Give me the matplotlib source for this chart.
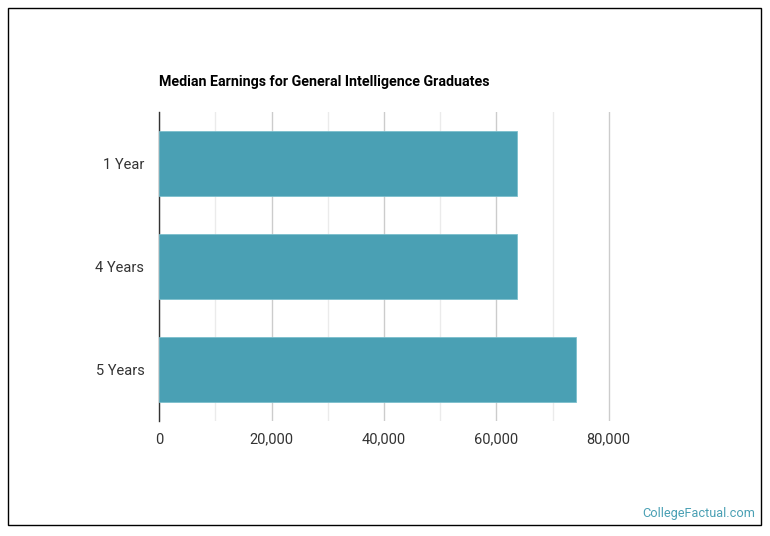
import matplotlib.pyplot as plt
from matplotlib.patches import Rectangle

plt.rcParams['font.family'] = ['Roboto', 'DejaVu Sans']

categories = ['1 Year', '4 Years', '5 Years']
earnings = [63700, 63700, 74200]
xticks = [0, 20000, 40000, 60000, 80000]
minor_ticks = [10000, 30000, 50000, 70000]

W, H = 770, 536
x0, x80 = 159.3, 608.7          # pixel positions of 0 and 80,000
right_px = 612
xmax = 80000 * (right_px - x0) / (x80 - x0)

fig = plt.figure(figsize=(W / 100, H / 100), dpi=100)
ax = fig.add_axes([x0 / W, 1 - 420.7 / H, (right_px - x0) / W, (420.7 - 112) / H])

ax.barh(categories, earnings, height=0.63, color='#4aa0b4', edgecolor='#7cbfcd', linewidth=0.6, zorder=3)
ax.set_ylim(2.5, -0.5)
ax.set_xlim(0, xmax)

ax.set_xticks(xticks)
ax.set_xticklabels([f'{v:,}' for v in xticks])
ax.set_xticks(minor_ticks, minor=True)
ax.grid(axis='x', which='major', color='#cccccc', linewidth=1, zorder=0)
ax.grid(axis='x', which='minor', color='#ebebeb', linewidth=1, zorder=0)
ax.grid(axis='y', visible=False)
ax.tick_params(axis='both', which='both', length=0, labelsize=10.5, labelcolor='#333333')
ax.tick_params(axis='x', pad=8.5)
ax.tick_params(axis='y', pad=10.8)

for side in ['top', 'right', 'bottom']:
    ax.spines[side].set_visible(False)
ax.spines['left'].set_color('#333333')
ax.spines['left'].set_linewidth(1)

fig.text(159 / W, 1 - 82 / H, 'Median Earnings for General Intelligence Graduates',
         fontsize=10.3, fontweight='bold', color='black', va='center', ha='left')
fig.text(755 / W, 1 - 514 / H, 'CollegeFactual.com', fontsize=9.2,
         color='#4aa0b4', ha='right', va='center')

fig.patches.append(Rectangle((8 / W, 1 - 525 / H), (761 - 8) / W, (525 - 8) / H,
                             transform=fig.transFigure, fill=False,
                             edgecolor='black', linewidth=1))

fig.savefig('out.png', dpi=100)
